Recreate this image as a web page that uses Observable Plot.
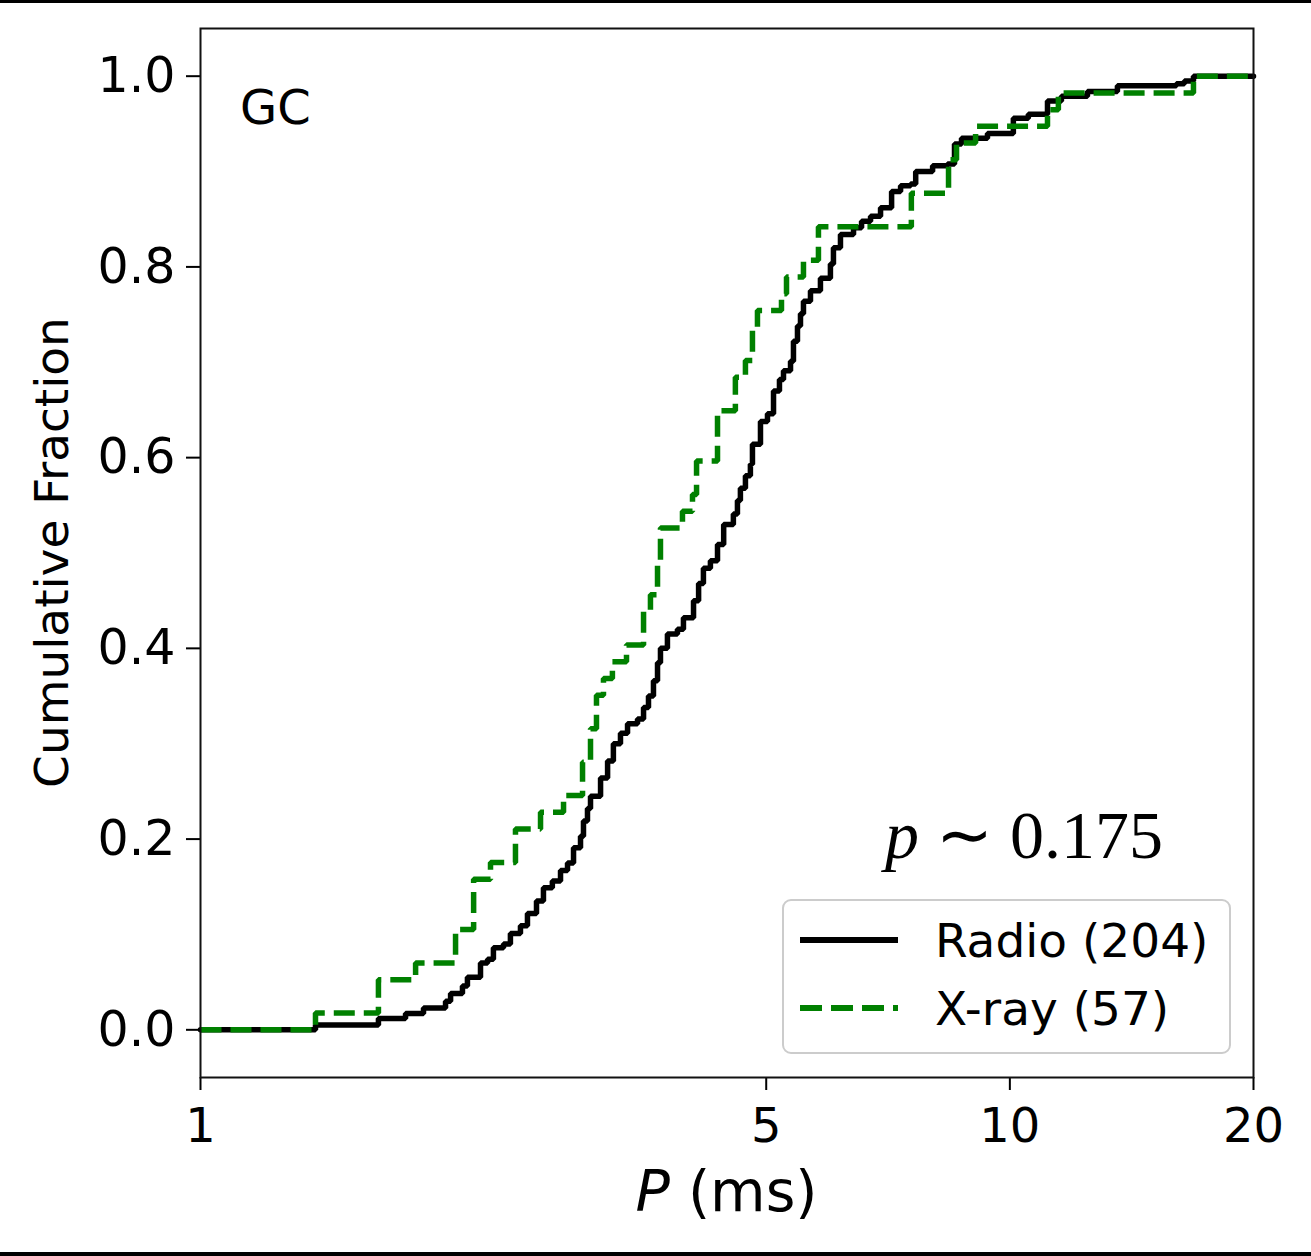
<!DOCTYPE html>
<html><head><meta charset="utf-8">
<script src="https://cdn.jsdelivr.net/npm/d3@7"></script>
<script src="https://cdn.jsdelivr.net/npm/@observablehq/plot@0.6"></script>
<style>
body{margin:0;background:#fff;}
#wrap{width:1311px;border-top:3px solid #000;border-bottom:4px solid #000;background:#fff;}
#wrap svg{display:block}
</style></head><body><div id="wrap"></div>
<script>
// Radio (204 pulsars): breakpoints of the cumulative step curve
const radioP = [1, 1.387, 1.659, 1.792, 1.886, 2.008, 2.037, 2.107, 2.137, 2.218,
  2.263, 2.301, 2.368, 2.415, 2.485, 2.535, 2.601, 2.653, 2.721, 2.785,
  2.841, 2.890, 2.948, 2.973, 3.007, 3.033, 3.121, 3.184, 3.237, 3.303,
  3.370, 3.467, 3.527, 3.577, 3.628, 3.670, 3.701, 3.775, 3.884, 3.951,
  4.066, 4.125, 4.182, 4.266, 4.353, 4.430, 4.554, 4.607, 4.646, 4.713,
  4.780, 4.808, 4.919, 5.018, 5.105, 5.192, 5.252, 5.358, 5.403, 5.465,
  5.512, 5.559, 5.671, 5.834, 6.002, 6.054, 6.176, 6.410, 6.558, 6.728,
  6.922, 7.143, 7.328, 7.541, 7.650, 8.027, 8.375, 8.543, 8.715, 9.383,
  10.10, 10.54, 11.13, 11.58, 12.47, 13.58, 16.06, 16.43, 16.86, 20];
const radioF = [0, 0.005, 0.012, 0.017, 0.023, 0.030, 0.038, 0.046, 0.055, 0.070,
  0.074, 0.086, 0.090, 0.101, 0.109, 0.122, 0.135, 0.149, 0.156, 0.167,
  0.175, 0.191, 0.203, 0.219, 0.232, 0.245, 0.264, 0.282, 0.300, 0.311,
  0.321, 0.326, 0.338, 0.350, 0.366, 0.385, 0.400, 0.415, 0.420, 0.432,
  0.450, 0.468, 0.484, 0.492, 0.509, 0.530, 0.541, 0.555, 0.568, 0.581,
  0.593, 0.614, 0.638, 0.646, 0.670, 0.682, 0.691, 0.701, 0.722, 0.738,
  0.751, 0.764, 0.775, 0.788, 0.803, 0.820, 0.834, 0.841, 0.848, 0.853,
  0.862, 0.879, 0.885, 0.887, 0.900, 0.906, 0.908, 0.929, 0.935, 0.940,
  0.956, 0.960, 0.974, 0.979, 0.984, 0.990, 0.992, 0.995, 1.000, 1.000];

// X-ray (57 pulsars): period at each step and cumulative count after it
const xrayP = [1, 1.387, 1.659, 1.844, 2.066, 2.175, 2.282, 2.450, 2.631, 2.809,
  2.965, 3.033, 3.085, 3.147, 3.228, 3.360, 3.527, 3.597, 3.670, 3.701,
  3.940, 4.054, 4.101, 4.353, 4.580, 4.713, 4.808, 4.877, 5.222, 5.297,
  5.559, 5.801, 7.556, 8.399, 8.592, 9.071, 11.13, 11.48, 16.86, 20];
const xrayCount = [0, 1, 3, 4, 6, 9, 10, 12, 13, 14,
  16, 18, 20, 21, 22, 23, 25, 26, 28, 30,
  31, 32, 34, 37, 39, 40, 42, 43, 44, 45,
  46, 48, 50, 52, 53, 54, 55, 56, 57, 57];
const xrayN = 57;

const seriesNames = ["Radio", "X-ray"];
const seriesCounts = [204, 57];
const seriesColors = ["#000000", "#008000"];
const xTicks = [1, 5, 10, 20];
const yTicks = [0, 0.2, 0.4, 0.6, 0.8, 1.0];
const panelLabel = "GC";
const pValue = "0.175";

const radio = radioP.map((p, i) => ({P: p, F: radioF[i]}));
const xray = xrayP.map((p, i) => ({P: p, F: xrayCount[i] / xrayN}));

const FONT = "DejaVu Sans";

function overlay(index, scales, values, dims) {
  const {width, height, marginLeft, marginRight, marginTop, marginBottom} = dims;
  const fl = marginLeft, fr = width - marginRight, ft = marginTop, fb = height - marginBottom;
  const g = d3.create("svg:g").attr("font-family", FONT).attr("fill", "#000").attr("text-anchor", "start");
  // x axis label
  const xl = g.append("text").attr("x", (fl + fr) / 2).attr("y", fb + 134)
    .attr("text-anchor", "middle").attr("font-size", 57);
  xl.append("tspan").attr("font-style", "italic").text("P");
  xl.append("tspan").text(" (ms)");
  // y axis label
  g.append("text").attr("transform", `translate(${fl - 148},${(ft + fb) / 2}) rotate(-90)`)
    .attr("text-anchor", "middle").attr("dy", "0.35em").attr("font-size", 47)
    .text("Cumulative Fraction");
  // panel label
  g.append("text").attr("x", fl + 40).attr("y", ft + 96).attr("font-size", 48).text(panelLabel);
  // p-value
  const pv = g.append("text").attr("x", fr - 368).attr("y", fb - 219)
    .attr("font-family", "Liberation Serif, Times New Roman, serif").attr("font-size", 68);
  pv.append("tspan").attr("font-style", "italic").text("p");
  pv.append("tspan").text(" \u223C " + pValue);
  // legend
  const lx0 = fr - 470, lx1 = fr - 23, ly0 = fb - 177, ly1 = fb - 24;
  g.append("rect").attr("x", lx0).attr("y", ly0).attr("width", lx1 - lx0).attr("height", ly1 - ly0)
    .attr("rx", 8).attr("fill", "#fff").attr("fill-opacity", 0.8)
    .attr("stroke", "#cccccc").attr("stroke-width", 2);
  const rows = [fb - 137, fb - 69];
  seriesNames.forEach((name, i) => {
    const y = rows[i];
    const ln = g.append("line").attr("x1", fr - 453).attr("x2", fr - 355).attr("y1", y).attr("y2", y)
      .attr("stroke", seriesColors[i]).attr("stroke-width", 6);
    if (i === 1) ln.attr("stroke-dasharray", "22,9").attr("stroke-linecap", "butt");
    g.append("text").attr("x", fr - 318).attr("y", y).attr("dy", "0.36em")
      .attr("font-size", 47).text(`${name} (${seriesCounts[i]})`);
  });
  return g.node();
}

const chart = Plot.plot({
  width: 1311, height: 1249,
  marginLeft: 200, marginRight: 58, marginTop: 25, marginBottom: 175,
  style: {fontFamily: FONT, fontSize: "47px", color: "#000", background: "#fff", overflow: "visible"},
  x: {type: "log", domain: [1, 20]},
  y: {domain: [-0.05, 1.05]},
  marks: [
    Plot.axisX(xTicks, {tickSize: 13, tickPadding: 17, tickFormat: d => String(d), label: null, fontSize: 48, strokeWidth: 2}),
    Plot.axisY(yTicks, {tickSize: 14, tickPadding: 11, tickFormat: d3.format(".1f"), label: null, fontSize: 49, strokeWidth: 2}),
    Plot.line(radio, {x: "P", y: "F", curve: "step-after", stroke: seriesColors[0], strokeWidth: 5.5, strokeLinejoin: "miter"}),
    Plot.line(xray, {x: "P", y: "F", curve: "step-after", stroke: seriesColors[1], strokeWidth: 5.5, strokeDasharray: "21,9", strokeLinecap: "butt", strokeLinejoin: "miter"}),
    Plot.frame({stroke: "#111", strokeWidth: 2}),
    overlay
  ]
});
document.getElementById("wrap").appendChild(chart);
</script></body></html>
